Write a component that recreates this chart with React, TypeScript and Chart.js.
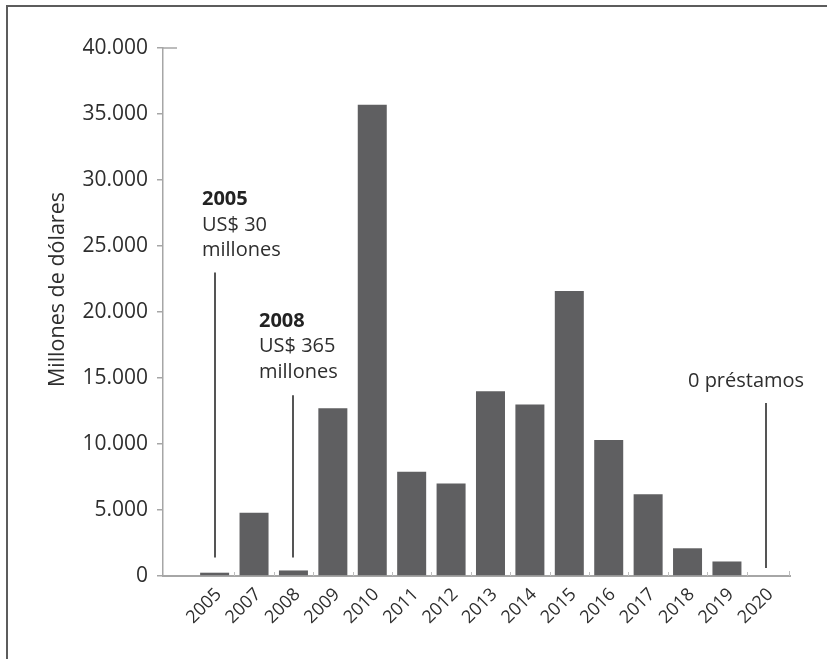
import React, { useEffect, useRef } from 'react';
import { Chart, registerables } from 'chart.js';

Chart.register(...registerables);

// ---- data ----
const years = ['2005', '2007', '2008', '2009', '2010', '2011', '2012', '2013', '2014', '2015', '2016', '2017', '2018', '2019', '2020'];
const loans = [250, 4800, 420, 12700, 35700, 7900, 7000, 14000, 13000, 21600, 10300, 6200, 2100, 1100, 0];
const yTickValues = [0, 5000, 10000, 15000, 20000, 25000, 30000, 35000, 40000];
const yTitle = 'Millones de dólares';
const noteYears = ['2005', '2008', '2020'];
const noteHeads = ['2005', '2008', ''];
const noteBodies = [['US$ 30', 'millones'], ['US$ 365', 'millones'], ['0 préstamos']];

const FONT = '"Open Sans", sans-serif';
const TEXT = '#2e2e2e';
const BAR = '#5f5f61';
const AXIS = '#a6a6a6';

// layout of annotations (offsets in px from the bar centre, levels in axis units)
const noteLayout = [
  { dx: -13, baseline: 28100, top: 23000, bottom: 1400 },
  { dx: -34, baseline: 18900, top: 13700, bottom: 1400 },
  { dx: -78, baseline: 14300, top: 13100, bottom: 600 },
];

const fmt = (v: number) => String(v).replace(/\B(?=(\d{3})+(?!\d))/g, '.');

const overlay = {
  id: 'overlay',
  afterDatasetsDraw(chart: any) {
    const { ctx, chartArea, scales } = chart;
    const x = scales.x;
    const y = scales.y;
    ctx.save();
    // small boundary ticks on the x axis
    ctx.strokeStyle = '#bdbdbd';
    ctx.lineWidth = 1;
    for (let i = 0; i < years.length - 1; i++) {
      const px = Math.round(x.getPixelForValue(i + 0.5)) + 0.5;
      ctx.beginPath();
      ctx.moveTo(px, chartArea.bottom);
      ctx.lineTo(px, chartArea.bottom - 4);
      ctx.stroke();
    }
    ctx.beginPath();
    ctx.moveTo(chartArea.right - 0.5, chartArea.bottom);
    ctx.lineTo(chartArea.right - 0.5, chartArea.bottom - 5);
    ctx.stroke();
    // top stub of the y axis
    ctx.strokeStyle = AXIS;
    ctx.lineWidth = 1.5;
    const ty = y.getPixelForValue(yTickValues[yTickValues.length - 1]);
    ctx.beginPath();
    ctx.moveTo(chartArea.left, ty);
    ctx.lineTo(chartArea.left + 14, ty);
    ctx.stroke();

    // annotations
    noteYears.forEach((yr, k) => {
      const idx = years.indexOf(yr);
      const lay = noteLayout[k];
      const cx = Math.round(x.getPixelForValue(idx));
      ctx.strokeStyle = '#555555';
      ctx.lineWidth = 2;
      ctx.beginPath();
      ctx.moveTo(cx, y.getPixelForValue(lay.top));
      ctx.lineTo(cx, y.getPixelForValue(lay.bottom));
      ctx.stroke();
      let by = y.getPixelForValue(lay.baseline);
      ctx.textAlign = 'left';
      ctx.textBaseline = 'alphabetic';
      if (noteHeads[k]) {
        ctx.font = `bold 20px ${FONT}`;
        ctx.fillStyle = '#222222';
        ctx.fillText(noteHeads[k], cx + lay.dx, by);
        by += 25.5;
      }
      ctx.font = `20px ${FONT}`;
      ctx.fillStyle = TEXT;
      noteBodies[k].forEach((line) => {
        ctx.fillText(line, cx + lay.dx, by);
        by += 25.5;
      });
    });

    // y axis title
    ctx.translate(64, y.getPixelForValue(21700));
    ctx.rotate(-Math.PI / 2);
    ctx.textAlign = 'center';
    ctx.textBaseline = 'alphabetic';
    ctx.font = `21.5px ${FONT}`;
    ctx.fillStyle = TEXT;
    ctx.fillText(yTitle, 0, 0);
    ctx.restore();
  },
};

export default function App() {
  const ref = useRef<HTMLCanvasElement>(null);
  useEffect(() => {
    if (!ref.current) return;
    const chart = new Chart(ref.current, {
      type: 'bar',
      data: {
        datasets: [
          {
            data: years.map((_, i) => ({ x: i, y: loans[i] })),
            backgroundColor: BAR,
            borderWidth: 0,
            categoryPercentage: 0.8,
            barPercentage: 0.92,
          },
        ],
      },
      options: {
        responsive: false,
        animation: false,
        layout: { padding: { top: 48, right: 37, bottom: 0, left: 0 } },
        plugins: { legend: { display: false }, tooltip: { enabled: false }, title: { display: false } },
        scales: {
          x: {
            type: 'linear',
            offset: false,
            min: -1.31,
            max: 14.6,
            afterBuildTicks: (s: any) => {
              s.ticks = years.map((_, i) => ({ value: i }));
            },
            afterFit: (s: any) => {
              s.height = 83;
            },
            grid: { display: true, drawOnChartArea: false, drawTicks: false },
            border: { display: true, color: AXIS, width: 2 },
            ticks: {
              autoSkip: false,
              minRotation: 45,
              maxRotation: 45,
              padding: 8,
              labelOffset: 4,
              color: TEXT,
              font: { family: FONT, size: 18 },
              callback: (v: any) => years[Math.round(Number(v))] ?? '',
            },
          },
          y: {
            min: 0,
            max: 40000,
            afterBuildTicks: (s: any) => {
              s.ticks = yTickValues.map((v) => ({ value: v }));
            },
            afterFit: (s: any) => {
              s.width = 163;
            },
            grid: { drawOnChartArea: false, drawTicks: true, tickLength: 6, color: AXIS, lineWidth: 1.5 },
            border: { display: true, color: AXIS, width: 1.5 },
            ticks: {
              padding: 9,
              color: TEXT,
              font: { family: FONT, size: 21 },
              callback: (v: any) => fmt(Number(v)),
            },
          },
        },
      },
      plugins: [overlay],
    });
    return () => chart.destroy();
  }, []);

  return (
    <div style={{ position: 'absolute', left: 0, top: 0, width: 827, height: 659, background: '#fff', overflow: 'hidden' }}>
      <div
        style={{
          position: 'absolute',
          left: 6,
          top: 5,
          right: 0,
          bottom: 0,
          borderTop: '2px solid #5c5c5c',
          borderLeft: '2px solid #5c5c5c',
        }}
      />
      <canvas ref={ref} width={827} height={659} style={{ position: 'absolute', left: 0, top: 0 }} />
    </div>
  );
}
